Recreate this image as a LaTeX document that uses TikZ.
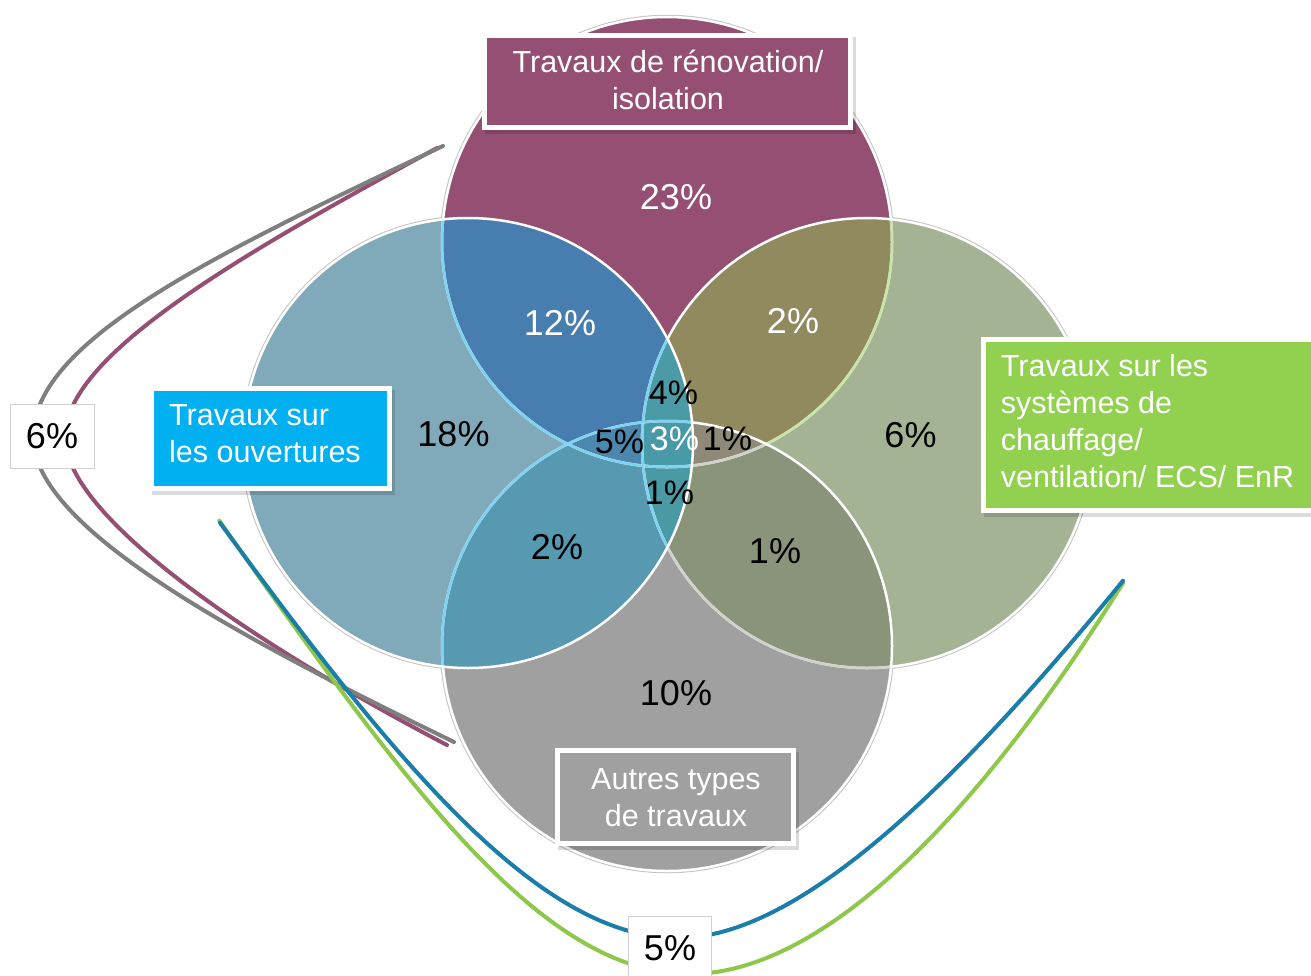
\documentclass[tikz,border=0pt]{standalone}
\usepackage{fontspec}
\setmainfont{Liberation Sans}
\definecolor{cTop}{HTML}{954F72}
\definecolor{cLeft}{HTML}{80AAB9}
\definecolor{cRight}{HTML}{A4B394}
\definecolor{cBot}{HTML}{A0A0A0}
\definecolor{cTL}{HTML}{487DAF}
\definecolor{cTR}{HTML}{918A5E}
\definecolor{cLB}{HTML}{5699B1}
\definecolor{cRB}{HTML}{8A947A}
\definecolor{cTLR}{HTML}{4A9BA5}
\definecolor{cTLB}{HTML}{4C88AD}
\definecolor{cTRB}{HTML}{8E8A77}
\definecolor{cLRB}{HTML}{4A9AA6}
\definecolor{cAll}{HTML}{489AA8}
\definecolor{cRim}{HTML}{C4C4C4}
\definecolor{tintC}{HTML}{7FD3F2}
\definecolor{tintG}{HTML}{C8E4A6}
\definecolor{tintW}{HTML}{D2D2CC}
\definecolor{boxBlue}{HTML}{00B0F0}
\definecolor{boxGreen}{HTML}{92D050}
\definecolor{boxGrey}{HTML}{A0A0A0}
\definecolor{lnGrey}{HTML}{7F7F7F}
\definecolor{lnPurple}{HTML}{954F72}
\definecolor{lnBlue}{HTML}{1B7DA9}
\definecolor{lnGreen}{HTML}{8DC84A}
\definecolor{cBoxLine}{HTML}{D0D0D0}
\begin{document}
\begin{tikzpicture}[x=1pt,y=-1pt,
  pct/.style={font=\fontsize{36}{40}\selectfont, inner sep=0pt},
  pcts/.style={font=\fontsize{34}{40}\selectfont, inner sep=0pt},
  lbltext/.style={font=\fontsize{30.5}{37}\selectfont, text=white, inner sep=0pt},
  labelbox/.style={draw=white, line width=5pt, inner sep=0pt},
  shadowbox/.style={fill=black, fill opacity=0.14, draw=none, inner sep=0pt},
  rim/.style={draw=cRim, line width=4.5pt},
  edgeline/.style={line width=2.5pt},
  pctbox/.style={draw=cBoxLine, fill=white, line width=1pt, inner sep=0pt},
  bracket/.style={line width=4pt, line cap=round},
]
\useasboundingbox (0,0) rectangle (1311,975);
\fill[white] (0,0) rectangle (1311,975);
\def\cirT{(667,242) circle[radius=225pt]}
\def\cirL{(468,443) circle[radius=225pt]}
\def\cirR{(867,443) circle[radius=225pt]}
\def\cirB{(667,646) circle[radius=225pt]}
% grey rims
\draw[rim] \cirT; \draw[rim] \cirR; \draw[rim] \cirB; \draw[rim] \cirL;
% base fills
\fill[cTop] \cirT;
\fill[cRight] \cirR;
\fill[cBot] \cirB;
\fill[cLeft] \cirL;
% pairwise
\begin{scope}\clip \cirT; \fill[cTL] \cirL; \fill[cTR] \cirR; \end{scope}
\begin{scope}\clip \cirB; \fill[cLB] \cirL; \fill[cRB] \cirR; \end{scope}
% triples
\begin{scope}\clip \cirL; \clip \cirR; \fill[cTLR] \cirT; \fill[cLRB] \cirB; \end{scope}
\begin{scope}\clip \cirT; \clip \cirB; \fill[cTLB] \cirL; \fill[cTRB] \cirR; \end{scope}
\begin{scope}\clip \cirT; \clip \cirB; \clip \cirL; \fill[cAll] \cirR; \end{scope}
% outlines: order top, right, bottom, left
\draw[edgeline, white] \cirT;
\begin{scope}\clip \cirR; \draw[edgeline, tintG] \cirT; \end{scope}
\begin{scope}\clip \cirB; \draw[edgeline, tintW] \cirT; \end{scope}
\begin{scope}\clip \cirL; \draw[edgeline, tintC] \cirT; \end{scope}
\draw[edgeline, white] \cirR;
\begin{scope}\clip \cirB; \draw[edgeline, tintW] \cirR; \end{scope}
\begin{scope}\clip \cirL; \draw[edgeline, tintC] \cirR; \end{scope}
\draw[edgeline, white] \cirB;
\begin{scope}\clip \cirL; \draw[edgeline, tintC] \cirB; \end{scope}
\draw[edgeline, white] \cirL;
% percentages
\node[pct, text=white] (p23) at (676,197) {23\%};
\node[pct, text=white] (p12) at (560,323) {12\%};
\node[pct, text=white] (p2a) at (793,321) {2\%};
\node[pct] (p18) at (453.5,434) {18\%};
\node[pct] (p6r) at (910.5,435) {6\%};
\node[pcts] (p4) at (673.5,393) {4\%};
\node[pcts] (p5) at (619.5,441.5) {5\%};
\node[pcts, text=white] (p3) at (674.5,438.5) {3\%};
\node[pcts] (p1a) at (727.5,439) {1\%};
\node[pcts] (p1b) at (669.5,493) {1\%};
\node[pct] (p2b) at (557,547) {2\%};
\node[pct] (p1c) at (775,551) {1\%};
\node[pct] (p10) at (676,693) {10\%};
% label boxes
\node[shadowbox, minimum width=371pt, minimum height=97pt] (shTop) at (670,85) {};
\node[labelbox, fill=cTop, minimum width=366pt, minimum height=92pt] (boxTop) at (667.5,81.5) {};
\node[lbltext, anchor=base, align=center] (txtTop) at (668,109.3) {Travaux de rénovation/\\isolation};
\node[shadowbox, minimum width=243pt, minimum height=105pt] (shLeft) at (273,442) {};
\node[labelbox, fill=boxBlue, minimum width=238pt, minimum height=100pt] (boxLeft) at (270.5,438.5) {};
\node[lbltext, anchor=base west, align=left] (txtLeft) at (169,462) {Travaux sur\\les ouvertures};
\node[shadowbox, minimum width=341pt, minimum height=176pt] (shRight) at (1154,428.5) {};
\node[labelbox, fill=boxGreen, minimum width=336.5pt, minimum height=171pt] (boxRight) at (1151.75,425) {};
\node[lbltext, anchor=base west, align=left] (txtRight) at (1000.7,487) {Travaux sur les\\systèmes de\\chauffage/\\ventilation/ ECS/ EnR};
\node[shadowbox, minimum width=241pt, minimum height=98pt] (shBot) at (678,800.5) {};
\node[labelbox, fill=boxGrey, minimum width=236pt, minimum height=93pt] (boxBot) at (675.5,797) {};
\node[lbltext, anchor=base, align=center] (txtBot) at (676,826) {Autres types\\de travaux};
% brackets
\coordinate (pS) at (437,148);
\coordinate (pM) at (65,437);
\coordinate (pE) at (447,745);
\coordinate (gS) at (443,146);
\coordinate (gM) at (33,437);
\coordinate (gE) at (454,742);
\coordinate (eS) at (219.3,520.7);
\coordinate (eM) at (690,974);
\coordinate (eE) at (1123,583);
\coordinate (bS) at (220,522.7);
\coordinate (bM) at (678,938);
\coordinate (bE) at (1123,580.7);
\draw[bracket, lnPurple] (pS) .. controls (240,255) and (65,355) .. (pM) .. controls (65,520) and (267,651) .. (pE);
\draw[bracket, lnGrey] (gS) .. controls (218,253) and (33,340) .. (gM) .. controls (33,530) and (247,641) .. (gE);
\draw[bracket, lnGreen] (eS) .. controls (403.6,782) and (540,974) .. (eM) .. controls (800,974) and (948,863.5) .. (eE);
\draw[bracket, lnBlue] (bS) .. controls (397,765) and (540,938) .. (bM) .. controls (788,938) and (934,812) .. (bE);
% bracket labels
\node[pctbox, minimum width=84pt, minimum height=64pt] (box6) at (52,436) {};
\node[pct] (t6) at (52,436) {6\%};
\node[pctbox, minimum width=83pt, minimum height=66pt] (box5) at (669.5,949) {};
\node[pct] (t5) at (670,948) {5\%};
\end{tikzpicture}
\end{document}
